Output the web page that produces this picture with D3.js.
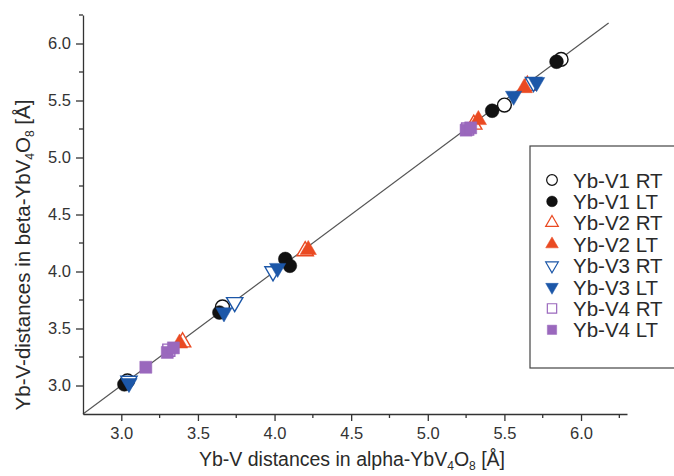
<!DOCTYPE html>
<html>
<head>
<meta charset="utf-8">
<script src="https://cdn.jsdelivr.net/npm/d3@7"></script>
<style>
  body { margin: 0; background: #fff; }
  text { font-family: "Liberation Sans", Arial, sans-serif; fill: #2a2a2a; }
</style>
</head>
<body>
<div id="chart"></div>
<script>
// values: [alpha distance, beta distance]
const v1RT = [[3.04, 3.04], [3.66, 3.69], [5.50, 5.46], [5.87, 5.86]];
const v1LT = [[3.02, 3.01], [3.64, 3.64], [4.07, 4.11], [4.10, 4.05], [5.42, 5.41], [5.84, 5.84]];
const v2RT = [[3.40, 3.38], [4.20, 4.18], [5.30, 5.29], [5.65, 5.63]];
const v2LT = [[3.38, 3.37], [4.22, 4.19], [5.33, 5.33], [5.63, 5.61]];
const v3RT = [[3.05, 3.04], [3.74, 3.73], [3.99, 4.00], [5.69, 5.66]];
const v3LT = [[3.05, 3.02], [3.67, 3.64], [4.02, 4.03], [5.56, 5.54], [5.71, 5.66]];
const v4RT = [[3.31, 3.31], [5.26, 5.25]];
const v4LT = [[3.16, 3.16], [3.30, 3.29], [3.34, 3.33], [5.25, 5.24], [5.28, 5.26]];

const seriesNames = ['Yb-V1 RT', 'Yb-V1 LT', 'Yb-V2 RT', 'Yb-V2 LT', 'Yb-V3 RT', 'Yb-V3 LT', 'Yb-V4 RT', 'Yb-V4 LT'];
const xTicks = [3.0, 3.5, 4.0, 4.5, 5.0, 5.5, 6.0];
const yTicks = [3.0, 3.5, 4.0, 4.5, 5.0, 5.5, 6.0];
const xMinor = [3.25, 3.75, 4.25, 4.75, 5.25, 5.75, 6.25];
const yMinor = [3.25, 3.75, 4.25, 4.75, 5.25, 5.75, 6.25];
const diagonal = [2.75, 6.18];

const black = '#111', red = '#ea4a22', blue = '#1c57a8', purple = '#9a68bd';
const series = [
  { name: seriesNames[0], data: v1RT, shape: d3.symbolCircle, color: black, filled: false, size: 150 },
  { name: seriesNames[1], data: v1LT, shape: d3.symbolCircle, color: black, filled: true, size: 150 },
  { name: seriesNames[2], data: v2RT, shape: d3.symbolTriangle, color: red, filled: false, size: 115 },
  { name: seriesNames[3], data: v2LT, shape: d3.symbolTriangle, color: red, filled: true, size: 115 },
  { name: seriesNames[4], data: v3RT, shape: d3.symbolTriangle, color: blue, filled: false, size: 115, flip: true },
  { name: seriesNames[5], data: v3LT, shape: d3.symbolTriangle, color: blue, filled: true, size: 115, flip: true },
  { name: seriesNames[6], data: v4RT, shape: d3.symbolSquare, color: purple, filled: false, size: 145 },
  { name: seriesNames[7], data: v4LT, shape: d3.symbolSquare, color: purple, filled: true, size: 145 }
];

const width = 674, height = 476;
const svg = d3.select('#chart').append('svg')
  .attr('width', width)
  .attr('height', height);

const x = d3.scaleLinear().domain([2.75, 6.3]).range([83, 627]);
const y = d3.scaleLinear().domain([2.75, 6.25]).range([414, 15]);

// y = x reference line
svg.append('line')
  .attr('x1', x(diagonal[0])).attr('y1', y(diagonal[0]))
  .attr('x2', x(diagonal[1])).attr('y2', y(diagonal[1]))
  .style('stroke', '#555')
  .style('stroke-width', 1.2);

// axes
const xAxis = svg.append('g')
  .attr('transform', `translate(0,${y(2.75)})`)
  .call(d3.axisBottom(x).tickValues(xTicks).tickFormat(d3.format('.1f')).tickSize(7).tickSizeOuter(0).tickPadding(6));
xAxis.append('g').selectAll('line').data(xMinor).enter().append('line')
  .attr('x1', d => x(d)).attr('x2', d => x(d)).attr('y1', 0).attr('y2', 4);

const yAxis = svg.append('g')
  .attr('transform', `translate(${x(2.75)},0)`)
  .call(d3.axisLeft(y).tickValues(yTicks).tickFormat(d3.format('.1f')).tickSize(7).tickSizeOuter(0).tickPadding(5));
yAxis.append('g').selectAll('line').data(yMinor).enter().append('line')
  .attr('y1', d => y(d)).attr('y2', d => y(d)).attr('x1', 0).attr('x2', -4);

svg.selectAll('.domain, .tick line').style('stroke', '#333').style('stroke-width', 1.3);
xAxis.selectAll('g > line').style('stroke', '#333').style('stroke-width', 1.3);
yAxis.selectAll('g > line').style('stroke', '#333').style('stroke-width', 1.3);
svg.selectAll('.tick text').style('font-size', '16.5px').style('fill', '#333')
  .style('font-family', '"Liberation Sans", Arial, sans-serif');

// points
function symbolPath(s, size) {
  return d3.symbol().type(s.shape).size(size)();
}
series.forEach(s => {
  svg.append('g').selectAll('path')
    .data(s.data)
    .enter().append('path')
    .attr('d', symbolPath(s, s.size))
    .attr('transform', d => `translate(${x(d[0])},${y(d[1])})${s.flip ? ' rotate(180)' : ''}`)
    .style('fill', s.filled ? s.color : '#fff')
    .style('stroke', s.color)
    .style('stroke-width', s.filled ? 0.5 : 1.4);
});

// axis titles
function addTitle(sel, base) {
  sel.append('tspan').text(base);
  sel.append('tspan').attr('dy', 4).style('font-size', '12px').text('4');
  sel.append('tspan').attr('dy', -4).text('O');
  sel.append('tspan').attr('dy', 4).style('font-size', '12px').text('8');
  sel.append('tspan').attr('dy', -4).text(' [Å]');
}
const xTitle = svg.append('text')
  .attr('x', 352).attr('y', 466)
  .attr('text-anchor', 'middle')
  .style('font-size', '19.5px');
addTitle(xTitle, 'Yb-V distances in alpha-YbV');

const yTitle = svg.append('text')
  .attr('transform', 'translate(30,255) rotate(-90)')
  .attr('text-anchor', 'middle')
  .style('font-size', '20.5px');
addTitle(yTitle, 'Yb-V-distances in beta-YbV');

// legend
const legend = svg.append('g').attr('transform', 'translate(530,146)');
legend.append('rect')
  .attr('width', 150).attr('height', 222)
  .style('fill', '#fff')
  .style('stroke', '#444')
  .style('stroke-width', 1.2);
const item = legend.selectAll('.item')
  .data(series)
  .enter().append('g')
  .attr('transform', (d, i) => `translate(0,${34 + i * 21.4})`);
item.append('path')
  .attr('d', d => symbolPath(d, d.size * 0.6))
  .attr('transform', d => `translate(22,0)${d.flip ? ' rotate(180)' : ''}`)
  .style('fill', d => d.filled ? d.color : '#fff')
  .style('stroke', d => d.color)
  .style('stroke-width', d => d.filled ? 0.5 : 1.2);
item.append('text')
  .attr('x', 43).attr('y', 7.5)
  .style('font-size', '20.5px')
  .text(d => d.name);
</script>
</body>
</html>
